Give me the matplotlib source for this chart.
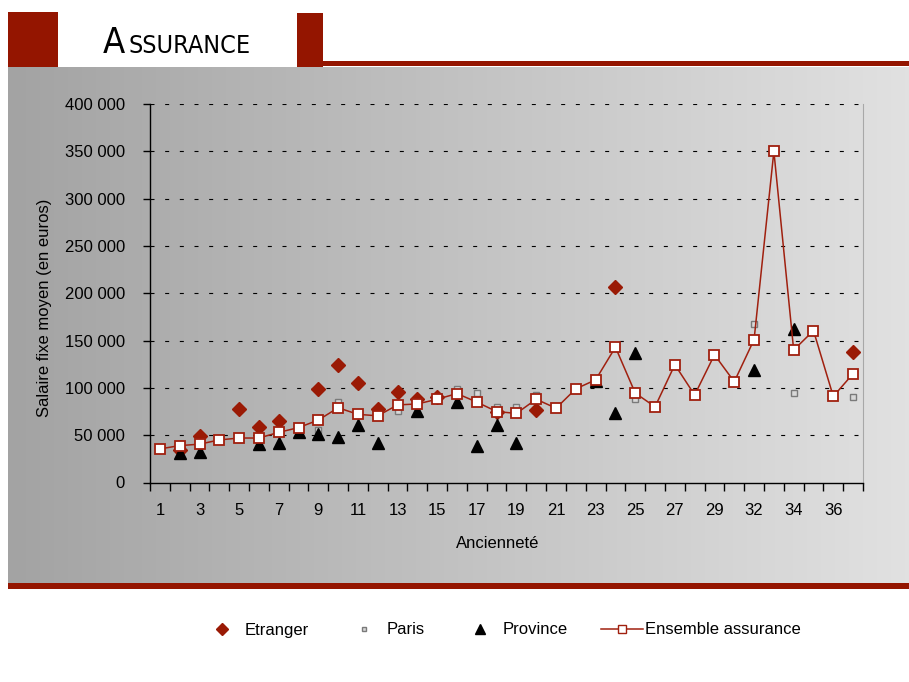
#! -*- coding: utf-8 -*-

#---------------------------------
# モジュールのインポート
#---------------------------------
import numpy as np
import matplotlib
matplotlib.use('Agg')
import matplotlib.pyplot as plt
from matplotlib import font_manager
from matplotlib.font_manager import FontProperties
from matplotlib.colors import LinearSegmentedColormap
from matplotlib.lines import Line2D
from matplotlib.patches import Rectangle
from matplotlib.ticker import FuncFormatter, MultipleLocator, FixedLocator

#---------------------------------
# データ (salaire fixe moyen par ancienneté)
#---------------------------------
nan = np.nan
anciennete = [str(v) for v in list(range(1, 31)) + [32, 33, 34, 35, 36, 37]]

ensemble = [35500, 39000, 40500, 45000, 47000, 47000, 53000, 58000, 66000, 79000,
            72000, 70500, 82000, 83000, 88000, 94000, 85000, 75000, 73000, 88000,
            78500, 99000, 108500, 143000, 94500, 80000, 124500, 92500, 135000, 106500,
            151000, 350000, 140000, 160500, 91000, 115000]

etranger = [nan, 34500, 49000, nan, 78000, 58500, 65000, nan, 98500, 124500,
            105500, 78000, 96000, 88500, 90000, nan, nan, 74000, nan, 76500,
            nan, nan, nan, 207000, nan, nan, nan, nan, nan, nan,
            nan, nan, nan, nan, nan, 137500]

paris = [nan, nan, nan, nan, 45500, nan, nan, nan, 55500, 85500,
         nan, nan, 76000, nan, nan, 98500, 95000, 79500, 79500, 92000,
         nan, nan, nan, nan, 88000, nan, nan, nan, nan, nan,
         167500, nan, 95000, nan, nan, 90000]

province = [nan, 31500, 32000, nan, nan, 40500, 42000, 53500, 51500, 48500,
            61000, 41500, nan, 76000, nan, 85500, 39000, 61000, 41500, nan,
            nan, nan, 107500, 73000, 137000, nan, nan, nan, nan, nan,
            118500, nan, 162000, nan, nan, nan]

#---------------------------------
# 定数定義
#---------------------------------
W, H = 909, 682
RED = '#941500'
LINE_RED = '#a0200f'


def px(x0, y0, x1, y1):
	# pixel box -> figure fraction [left, bottom, width, height]
	return [x0 / W, 1 - y1 / H, (x1 - x0) / W, (y1 - y0) / H]


def TitleFont():
	# police étroite si disponible (Arial Narrow dans l'original)
	fonts = font_manager.fontManager.ttflist
	for key in ['LiberationSansNarrow-Regular', 'LiberationSansNarrow', 'SansCondensed.', 'Condensed.', 'Narrow']:
		for f in fonts:
			if key.lower() in f.fname.lower() and 'bold' not in f.fname.lower() \
					and 'oblique' not in f.fname.lower() and 'italic' not in f.fname.lower() \
					and 'mono' not in f.fname.lower() and 'serif' not in f.fname.lower().replace('sans', ''):
				return FontProperties(fname=f.fname), True
	return FontProperties(family='Liberation Sans'), False


def main():
	plt.rcParams['font.family'] = ['Liberation Sans', 'DejaVu Sans']
	tfont, narrow = TitleFont()

	fig = plt.figure(figsize=(W / 100, H / 100), dpi=100, facecolor='white')

	# --- fond dégradé ---
	bg = fig.add_axes(px(8, 67, 909, 583), zorder=0)
	cmap = LinearSegmentedColormap.from_list('g', ['#a3a3a3', '#e1e1e1'])
	bg.imshow(np.linspace(0, 1, 256).reshape(1, -1), cmap=cmap, aspect='auto',
			  extent=[0, 1, 0, 1])
	bg.set_axis_off()

	# --- bandeau rouge ---
	for x0, y0, x1, y1 in [(8, 12, 58, 67), (297, 13, 323, 67), (323, 61, 909, 66), (8, 583, 909, 589)]:
		l, b, w, h = px(x0, y0, x1, y1)
		fig.patches.append(Rectangle((l, b), w, h, transform=fig.transFigure,
									 facecolor=RED, edgecolor='none', zorder=1))

	# --- titre ---
	big, small, x2 = (26, 18, 128) if narrow else (24, 16, 124)
	fig.text(103 / W, 1 - 53 / H, 'A', fontproperties=tfont, fontsize=big,
			 ha='left', va='baseline')
	fig.text(x2 / W, 1 - 53 / H, 'SSURANCE', fontproperties=tfont, fontsize=small,
			 ha='left', va='baseline')

	# --- graphique ---
	ax = fig.add_axes(px(150, 104, 863, 482.5), zorder=2)
	ax.set_facecolor('none')
	x = np.arange(len(anciennete))

	ax.plot(x, etranger, linestyle='none', marker='D', markersize=7,
			color='#9a1a05', markeredgecolor='#9a1a05', zorder=3, label='Etranger')
	ax.plot(x, paris, linestyle='none', marker='s', markersize=5,
			markerfacecolor='#d8d8d8', markeredgecolor='#7a7a7a', markeredgewidth=1,
			zorder=3, label='Paris')
	ax.plot(x, province, linestyle='none', marker='^', markersize=8.5,
			color='black', zorder=4, label='Province')
	ax.plot(x, ensemble, color=LINE_RED, linewidth=1.1, marker='s', markersize=7.5,
			markerfacecolor='white', markeredgecolor=LINE_RED, markeredgewidth=1.3,
			zorder=5, label='Ensemble assurance')

	ax.set_xlim(-0.5, len(anciennete) - 0.5)
	ax.set_ylim(0, 400000)

	# axe des x : graduations entre catégories, un libellé sur deux
	ax.xaxis.set_major_locator(FixedLocator(x[::2]))
	ax.set_xticklabels(anciennete[::2], fontsize=12)
	ax.xaxis.set_minor_locator(FixedLocator(np.arange(-0.5, len(anciennete), 1.0)))
	ax.tick_params(axis='x', which='major', length=0, pad=15)
	ax.tick_params(axis='x', which='minor', length=6, width=1, direction='out')

	# axe des y
	ax.yaxis.set_major_locator(MultipleLocator(50000))
	ax.yaxis.set_major_formatter(FuncFormatter(lambda v, p: '{:,.0f}'.format(v).replace(',', ' ')))
	ax.tick_params(axis='y', length=5, width=1, direction='out', pad=13, labelsize=12)

	for v in range(50000, 400001, 50000):
		ax.axhline(v, color='black', linewidth=0.8, dashes=(3.6, 9.6), zorder=1)

	ax.spines['top'].set_visible(False)
	ax.spines['right'].set_color('#a8a8a8')
	ax.spines['left'].set_linewidth(1)
	ax.spines['bottom'].set_linewidth(1)

	fig.text(498 / W, 1 - 543 / H, 'Ancienneté', fontsize=12, ha='center', va='center')
	fig.text(45 / W, 1 - 308 / H, 'Salaire fixe moyen (en euros)', fontsize=12,
			 rotation=90, ha='center', va='center')

	# --- légende ---
	handles = [
		Line2D([], [], linestyle='none', marker='D', markersize=6, color='#9a1a05'),
		Line2D([], [], linestyle='none', marker='s', markersize=3.5,
			   markerfacecolor='#d8d8d8', markeredgecolor='#7a7a7a'),
		Line2D([], [], linestyle='none', marker='^', markersize=7, color='black'),
		Line2D([], [], color=LINE_RED, linewidth=1.1, marker='s', markersize=6,
			   markerfacecolor='white', markeredgecolor=LINE_RED),
	]
	labels = ['Etranger', 'Paris', 'Province', 'Ensemble assurance']
	fig.legend(handles, labels, loc='center', bbox_to_anchor=(501 / W, 1 - 630 / H),
			   ncol=4, frameon=False, fontsize=12, handlelength=2.5,
			   handletextpad=0.1, columnspacing=2.05)

	fig.savefig('out.png', dpi=100, facecolor='white')
	plt.close(fig)

	return

#---------------------------------
# メイン処理
#---------------------------------
if __name__ == '__main__':
	main()
